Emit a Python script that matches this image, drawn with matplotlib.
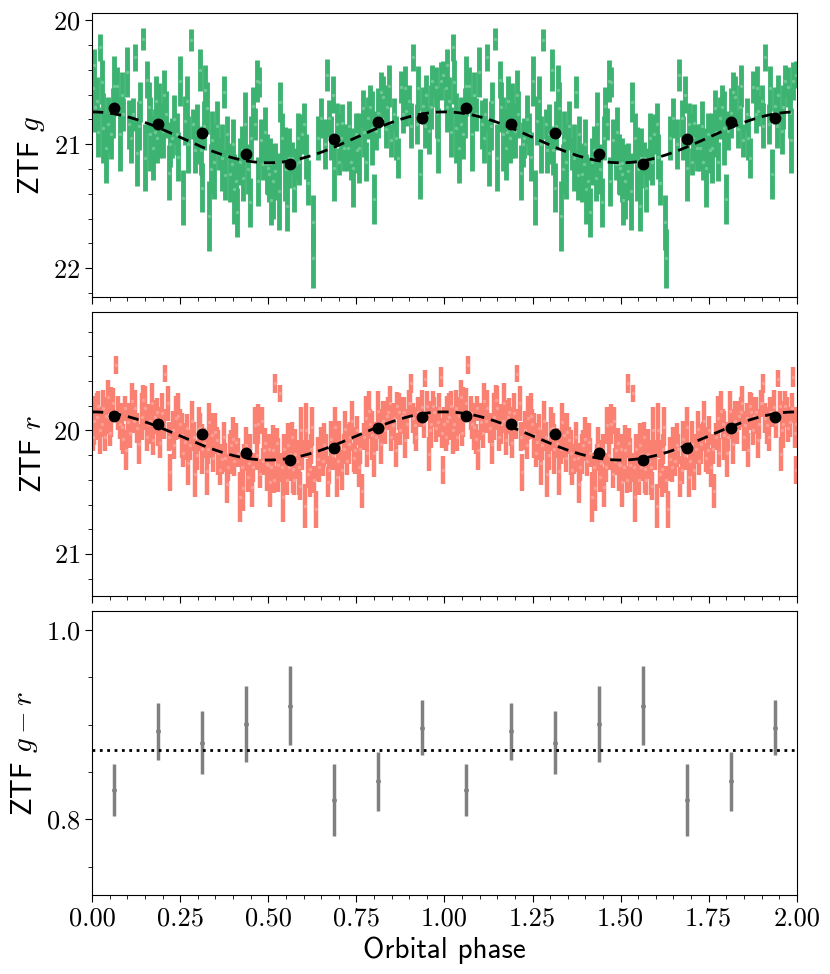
import numpy as np
import matplotlib
matplotlib.use('Agg')
import matplotlib.pyplot as plt
from matplotlib.ticker import MultipleLocator

plt.rcParams['font.family'] = 'cmr10'
plt.rcParams['mathtext.fontset'] = 'cm'
plt.rcParams['axes.formatter.use_mathtext'] = True

# ZTF g: fase, magnitudine, errore (fase 0-1, poi ripetuta a 1-2)
g_phase = [0.006, 0.008, 0.013, 0.023, 0.032, 0.040, 0.046, 0.053, 0.062, 0.070,
           0.078, 0.089, 0.098, 0.106, 0.115, 0.122, 0.127, 0.136, 0.143, 0.150,
           0.157, 0.165, 0.174, 0.181, 0.185, 0.191, 0.200, 0.210, 0.217, 0.226,
           0.240, 0.250, 0.257, 0.264, 0.273, 0.280, 0.287, 0.297, 0.306, 0.309,
           0.313, 0.321, 0.325, 0.332, 0.339, 0.346, 0.361, 0.368, 0.374, 0.382,
           0.390, 0.396, 0.403, 0.408, 0.412, 0.420, 0.429, 0.434, 0.448, 0.456,
           0.462, 0.467, 0.474, 0.478, 0.486, 0.496, 0.503,
           0.498, 0.505, 0.507, 0.513, 0.520, 0.530, 0.533, 0.546, 0.550, 0.554,
           0.558, 0.567, 0.579, 0.588, 0.596, 0.602, 0.612, 0.626, 0.628, 0.650,
           0.666, 0.673, 0.683, 0.687, 0.694, 0.702, 0.709, 0.716, 0.725, 0.735,
           0.741, 0.749, 0.758, 0.768, 0.777, 0.782, 0.794, 0.799, 0.806, 0.820,
           0.826, 0.834, 0.842, 0.848, 0.858, 0.867, 0.877, 0.883, 0.891, 0.900,
           0.910, 0.921, 0.931, 0.938, 0.948, 0.957, 0.966, 0.976, 0.983, 0.990,
           0.997,
           0.003, 0.018, 0.028, 0.058, 0.084, 0.111, 0.132, 0.160, 0.178, 0.205,
           0.222, 0.233, 0.245, 0.268, 0.292, 0.317, 0.336, 0.354, 0.378, 0.400,
           0.425, 0.441, 0.452, 0.470, 0.490, 0.540, 0.573, 0.584, 0.607, 0.640,
           0.660, 0.678, 0.705, 0.730, 0.753, 0.772, 0.788, 0.812, 0.838, 0.862,
           0.887, 0.905, 0.925, 0.944, 0.962, 0.980]
g_mag = [20.36, 20.70, 20.65, 20.22, 20.87, 21.03, 20.84, 20.92, 20.53, 20.53,
         20.92, 20.76, 20.42, 20.84, 20.76, 20.30, 21.07, 20.66, 20.15, 21.11,
         20.48, 20.92, 21.03, 20.65, 20.95, 20.81, 20.89, 20.76, 21.23, 20.95,
         20.92, 20.49, 21.43, 20.81, 21.00, 20.16, 20.84, 20.92, 20.40, 21.05,
         21.35, 20.56, 20.71, 21.58, 20.97, 21.14, 21.08, 21.11, 20.58, 20.92,
         21.24, 21.16, 21.36, 21.30, 21.55, 21.14, 21.27, 20.84, 21.47, 20.69,
         20.84, 20.49, 20.50, 20.97, 21.16, 21.16, 21.24,
         21.19, 21.15, 21.45, 21.30, 21.22, 21.38, 20.66, 21.16, 21.20, 21.50,
         21.11, 21.11, 21.16, 21.14, 20.92, 20.84, 21.31, 21.63, 21.92, 20.79,
         20.44, 20.79, 20.60, 21.19, 20.84, 21.14, 20.83, 21.03, 21.03, 21.14,
         21.19, 20.92, 21.03, 20.71, 21.14, 20.79, 20.87, 21.44, 20.89, 20.58,
         20.62, 20.88, 20.53, 20.97, 20.76, 21.11, 20.54, 20.76, 20.73, 20.65,
         20.30, 20.84, 21.24, 20.69, 20.60, 20.89, 20.49, 20.54, 20.97, 20.49,
         20.44,
         20.55, 20.90, 20.50, 20.75, 20.60, 20.95, 20.85, 20.70, 20.90, 20.60,
         21.00, 20.80, 21.10, 20.65, 21.05, 20.85, 21.20, 20.85, 21.25, 21.00,
         21.05, 21.20, 20.95, 21.30, 20.90, 20.95, 21.35, 20.95, 21.10, 20.95,
         21.00, 20.95, 20.95, 20.85, 21.05, 20.90, 20.70, 20.75, 20.70, 20.95,
         20.55, 20.85, 20.55, 20.85, 20.70, 20.75]
g_err = [0.13, 0.20, 0.19, 0.11, 0.28, 0.28, 0.22, 0.20, 0.24, 0.15,
         0.30, 0.13, 0.20, 0.20, 0.13, 0.11, 0.27, 0.16, 0.09, 0.27,
         0.15, 0.30, 0.26, 0.20, 0.20, 0.30, 0.22, 0.19, 0.22, 0.16,
         0.17, 0.20, 0.22, 0.20, 0.23, 0.09, 0.12, 0.24, 0.17, 0.20,
         0.20, 0.20, 0.21, 0.28, 0.24, 0.30, 0.13, 0.27, 0.13, 0.15,
         0.23, 0.17, 0.28, 0.20, 0.20, 0.19, 0.19, 0.26, 0.20, 0.15,
         0.13, 0.17, 0.12, 0.17, 0.13, 0.24, 0.23,
         0.22, 0.20, 0.20, 0.30, 0.23, 0.31, 0.16, 0.30, 0.20, 0.20,
         0.24, 0.13, 0.13, 0.19, 0.16, 0.17, 0.18, 0.22, 0.24, 0.16,
         0.13, 0.15, 0.15, 0.27, 0.17, 0.11, 0.15, 0.19, 0.19, 0.15,
         0.32, 0.17, 0.28, 0.15, 0.16, 0.17, 0.30, 0.20, 0.16, 0.16,
         0.17, 0.15, 0.17, 0.13, 0.13, 0.16, 0.13, 0.15, 0.12, 0.13,
         0.11, 0.16, 0.20, 0.15, 0.16, 0.19, 0.13, 0.16, 0.26, 0.15,
         0.11,
         0.18, 0.20, 0.18, 0.20, 0.18, 0.20, 0.20, 0.20, 0.18, 0.20,
         0.18, 0.20, 0.20, 0.20, 0.18, 0.20, 0.20, 0.20, 0.20, 0.20,
         0.20, 0.20, 0.18, 0.20, 0.20, 0.20, 0.20, 0.20, 0.18, 0.18,
         0.20, 0.18, 0.20, 0.20, 0.18, 0.20, 0.18, 0.20, 0.18, 0.18,
         0.18, 0.18, 0.18, 0.18, 0.18, 0.20]

# ZTF r
r_phase = [0.006, 0.013, 0.023, 0.032, 0.040, 0.046, 0.053, 0.068, 0.074, 0.084,
           0.089, 0.096, 0.103, 0.113, 0.122, 0.134, 0.141, 0.150, 0.160, 0.169,
           0.179, 0.188, 0.198, 0.207, 0.214, 0.221, 0.229, 0.238, 0.245, 0.254,
           0.264, 0.273, 0.283, 0.292, 0.302, 0.311, 0.325, 0.333, 0.339, 0.349,
           0.358, 0.368, 0.382, 0.390, 0.399, 0.409, 0.420, 0.428, 0.437, 0.444,
           0.453, 0.462, 0.472, 0.481, 0.488, 0.496,
           0.498, 0.505, 0.513, 0.520, 0.527, 0.534, 0.541, 0.549, 0.555, 0.562,
           0.569, 0.577, 0.586, 0.593, 0.603, 0.607, 0.617, 0.624, 0.634, 0.640,
           0.650, 0.659, 0.669, 0.678, 0.688, 0.694, 0.702, 0.709, 0.719, 0.728,
           0.738, 0.747, 0.757, 0.766, 0.776, 0.785, 0.794, 0.801, 0.811, 0.820,
           0.826, 0.836, 0.845, 0.853, 0.862, 0.870, 0.879, 0.889, 0.898, 0.905,
           0.915, 0.924, 0.936, 0.946, 0.955, 0.962, 0.971, 0.981, 0.990, 0.997,
           0.999,
           0.003, 0.018, 0.028, 0.036, 0.050, 0.060, 0.079, 0.093, 0.108, 0.118,
           0.128, 0.145, 0.155, 0.165, 0.174, 0.184, 0.193, 0.203, 0.218, 0.233,
           0.249, 0.259, 0.268, 0.278, 0.288, 0.297, 0.307, 0.318, 0.330, 0.344,
           0.353, 0.363, 0.373, 0.378, 0.386, 0.394, 0.404, 0.414, 0.424, 0.432,
           0.441, 0.449, 0.458, 0.467, 0.477, 0.485, 0.492,
           0.502, 0.509, 0.517, 0.524, 0.538, 0.545, 0.552, 0.559, 0.566, 0.573,
           0.581, 0.590, 0.597, 0.612, 0.620, 0.629, 0.645, 0.655, 0.664, 0.673,
           0.683, 0.698, 0.714, 0.723, 0.733, 0.742, 0.752, 0.761, 0.771, 0.780,
           0.790, 0.806, 0.815, 0.831, 0.841, 0.849, 0.858, 0.866, 0.875, 0.884,
           0.893, 0.902, 0.910, 0.920, 0.930, 0.941, 0.951, 0.959, 0.967, 0.976,
           0.985, 0.994]
r_mag = [19.92, 19.89, 20.00, 19.82, 19.88, 19.73, 19.85, 19.47, 19.86, 19.97,
         20.07, 20.16, 19.93, 19.76, 19.82, 20.11, 19.89, 19.82, 19.95, 19.78,
         19.89, 19.97, 19.86, 19.54, 19.78, 20.34, 20.00, 19.90, 19.88, 20.04,
         20.09, 20.26, 19.92, 20.35, 19.99, 20.15, 20.33, 19.93, 20.04, 20.01,
         20.18, 20.23, 20.43, 20.19, 20.07, 20.09, 20.54, 20.47, 20.12, 20.26,
         20.46, 19.96, 19.95, 19.92, 20.16, 20.27,
         20.28, 20.42, 20.16, 19.62, 20.28, 19.70, 20.54, 20.24, 20.12, 20.19,
         20.31, 20.19, 20.30, 20.00, 20.61, 20.00, 20.31, 19.97, 20.64, 20.23,
         20.16, 20.12, 20.42, 20.07, 19.97, 20.38, 20.11, 20.32, 19.99, 20.11,
         19.92, 20.16, 20.30, 20.49, 19.90, 19.84, 20.04, 20.18, 19.84, 20.11,
         19.92, 19.88, 19.78, 19.96, 20.16, 19.85, 19.88, 20.08, 19.78, 19.62,
         19.96, 19.85, 19.81, 19.58, 20.19, 19.95, 19.85, 19.93, 19.57, 20.32,
         19.95,
         20.05, 19.80, 19.95, 20.05, 20.02, 19.78, 19.95, 19.82, 20.02, 19.92,
         19.98, 19.75, 20.05, 19.92, 20.08, 19.85, 20.10, 19.95, 20.05, 20.12,
         19.95, 20.18, 19.98, 20.12, 20.05, 20.20, 19.98, 20.10, 20.15, 20.22,
         20.08, 20.32, 20.05, 20.22, 20.30, 20.12, 20.25, 20.18, 20.30, 20.22,
         20.38, 20.15, 20.30, 20.20, 20.35, 20.25, 20.10,
         20.15, 20.30, 20.40, 20.10, 20.30, 20.15, 20.40, 20.30, 20.05, 20.40,
         20.25, 20.45, 20.20, 20.35, 20.15, 20.40, 20.30, 20.25, 20.15, 20.32,
         20.20, 20.25, 20.15, 20.25, 20.05, 20.22, 20.00, 20.15, 20.05, 20.18,
         19.95, 20.05, 19.95, 20.00, 19.85, 20.05, 19.90, 19.80, 20.00, 19.85,
         19.95, 19.78, 19.90, 20.05, 19.85, 19.95, 19.80, 20.00, 19.80, 19.98,
         19.82, 20.02]
r_err = [0.20, 0.19, 0.19, 0.15, 0.15, 0.14, 0.20, 0.07, 0.14, 0.19,
         0.12, 0.16, 0.15, 0.14, 0.15, 0.16, 0.19, 0.18, 0.16, 0.16,
         0.14, 0.16, 0.16, 0.07, 0.14, 0.15, 0.16, 0.18, 0.18, 0.18,
         0.15, 0.18, 0.16, 0.19, 0.18, 0.20, 0.19, 0.15, 0.18, 0.15,
         0.18, 0.12, 0.16, 0.16, 0.18, 0.15, 0.20, 0.18, 0.15, 0.18,
         0.16, 0.15, 0.16, 0.11, 0.16, 0.22,
         0.20, 0.20, 0.20, 0.08, 0.22, 0.07, 0.20, 0.16, 0.18, 0.16,
         0.20, 0.20, 0.22, 0.19, 0.18, 0.22, 0.23, 0.16, 0.15, 0.18,
         0.19, 0.18, 0.12, 0.15, 0.16, 0.16, 0.19, 0.16, 0.15, 0.16,
         0.16, 0.19, 0.16, 0.14, 0.18, 0.16, 0.20, 0.20, 0.16, 0.16,
         0.16, 0.12, 0.14, 0.12, 0.14, 0.15, 0.15, 0.14, 0.11, 0.08,
         0.15, 0.12, 0.14, 0.07, 0.14, 0.19, 0.12, 0.12, 0.08, 0.11,
         0.14,
         0.12, 0.12, 0.10, 0.12, 0.11, 0.12, 0.12, 0.10, 0.12, 0.10,
         0.12, 0.12, 0.12, 0.10, 0.12, 0.11, 0.12, 0.12, 0.12, 0.11,
         0.12, 0.12, 0.11, 0.12, 0.12, 0.12, 0.12, 0.12, 0.12, 0.12,
         0.11, 0.12, 0.12, 0.12, 0.11, 0.12, 0.12, 0.12, 0.12, 0.11,
         0.12, 0.12, 0.12, 0.12, 0.12, 0.11, 0.12,
         0.12, 0.12, 0.11, 0.12, 0.12, 0.12, 0.12, 0.11, 0.12, 0.12,
         0.12, 0.11, 0.12, 0.12, 0.12, 0.11, 0.12, 0.12, 0.12, 0.11,
         0.12, 0.12, 0.12, 0.11, 0.12, 0.12, 0.12, 0.12, 0.11, 0.12,
         0.12, 0.12, 0.12, 0.11, 0.12, 0.12, 0.12, 0.11, 0.12, 0.12,
         0.12, 0.11, 0.12, 0.12, 0.12, 0.11, 0.12, 0.12, 0.12, 0.11,
         0.12, 0.12]

# medie per bin di fase
bin_phase = [0.0625, 0.1875, 0.3125, 0.4375, 0.5625, 0.6875, 0.8125, 0.9375]
g_bin = [20.71, 20.84, 20.91, 21.08, 21.16, 20.96, 20.82, 20.79]
r_bin = [19.88, 19.95, 20.03, 20.18, 20.24, 20.14, 19.98, 19.89]
gr_bin = [0.831, 0.893, 0.881, 0.901, 0.920, 0.820, 0.840, 0.8965]
gr_err = [0.027, 0.030, 0.033, 0.040, 0.042, 0.038, 0.031, 0.029]
gr_mean = 0.873

# fit sinusoidale: media, ampiezza
g_fit = (20.945, 0.205)
r_fit = (20.045, 0.195)

def twice(a):
    a = np.asarray(a)
    return np.concatenate([a, a + 1])

def rep(a):
    a = np.asarray(a)
    return np.concatenate([a, a])

fig, axs = plt.subplots(3, 1, figsize=(8.3, 9.74), dpi=100, sharex=True)
fig.subplots_adjust(left=0.111, right=0.960, top=0.987, bottom=0.081, hspace=0.053)

ph = np.linspace(0, 2, 400)

ax = axs[0]
ax.errorbar(twice(g_phase), rep(g_mag), yerr=rep(g_err), fmt='o', ms=2.5,
            color='mediumseagreen', mfc='#6cc894', mec='none', elinewidth=3.5,
            capsize=0, zorder=1)
ax.plot(ph, g_fit[0] - g_fit[1]*np.cos(2*np.pi*ph), 'k--', lw=2, dashes=(4, 2.5), zorder=3)
ax.plot(twice(bin_phase), rep(g_bin), 'ko', ms=7.5, zorder=4)
ax.set_ylim(22.23, 19.94)
ax.yaxis.set_major_locator(MultipleLocator(1))
ax.yaxis.set_minor_locator(MultipleLocator(0.2))
ax.set_ylabel(r'ZTF $g$', fontfamily='cmss10', fontsize=21)

ax = axs[1]
ax.errorbar(twice(r_phase), rep(r_mag), yerr=rep(r_err), fmt='o', ms=2.5,
            color='salmon', mfc='#fb9f95', mec='none', elinewidth=3.2,
            capsize=0, zorder=1)
ax.plot(ph, r_fit[0] - r_fit[1]*np.cos(2*np.pi*ph), 'k--', lw=2, dashes=(4, 2.5), zorder=3)
ax.plot(twice(bin_phase), rep(r_bin), 'ko', ms=7.5, zorder=4)
ax.set_ylim(21.34, 19.04)
ax.yaxis.set_major_locator(MultipleLocator(1))
ax.yaxis.set_minor_locator(MultipleLocator(0.2))
ax.set_ylabel(r'ZTF $r$', fontfamily='cmss10', fontsize=21)

ax = axs[2]
ax.errorbar(twice(bin_phase), rep(gr_bin), yerr=rep(gr_err), fmt='o', ms=2.5,
            color='grey', elinewidth=2.5, capsize=0)
ax.axhline(gr_mean, color='k', ls=':', lw=2)
ax.set_ylim(0.72, 1.02)
ax.yaxis.set_major_locator(MultipleLocator(0.2))
ax.yaxis.set_minor_locator(MultipleLocator(0.05))
ax.set_ylabel(r'ZTF $g - r$', fontfamily='cmss10', fontsize=21)
ax.set_xlabel('Orbital phase', fontfamily='cmss10', fontsize=21)

for ax in axs:
    ax.set_xlim(0, 2)
    ax.xaxis.set_major_locator(MultipleLocator(0.25))
    ax.xaxis.set_minor_locator(MultipleLocator(0.05))
    ax.tick_params(labelsize=19, length=5)
    ax.tick_params(which='minor', length=3)
axs[2].xaxis.set_major_formatter(plt.FormatStrFormatter('%.2f'))

plt.savefig('out.png', dpi=100)
